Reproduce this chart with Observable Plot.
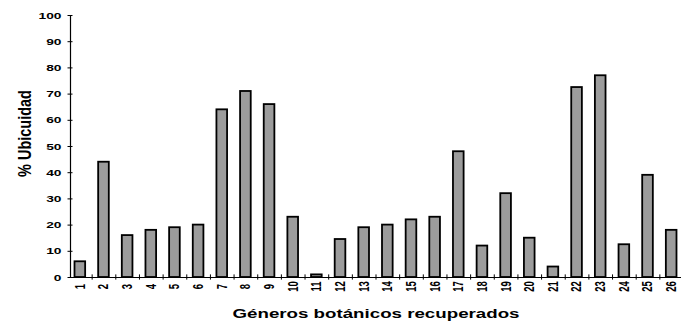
<!DOCTYPE html>
<html>
<head>
<meta charset="utf-8">
<script src="https://cdn.jsdelivr.net/npm/d3@7"></script>
<script src="https://cdn.jsdelivr.net/npm/@observablehq/plot@0.6"></script>
<style>
  html, body { margin: 0; padding: 0; background: #fff; }
</style>
</head>
<body>
<div id="chart"></div>
<script>
// ---- Data ----
const generos = ["1","2","3","4","5","6","7","8","9","10","11","12","13","14","15","16","17","18","19","20","21","22","23","24","25","26"];
const ubicuidad = [6, 44, 16, 18, 19, 20, 64, 71, 66, 23, 1, 14.5, 19, 20, 22, 23, 48, 12, 32, 15, 4, 72.5, 77, 12.5, 39, 18];
const yTicks = [0, 10, 20, 30, 40, 50, 60, 70, 80, 90, 100];
const xTitle = "Géneros botánicos recuperados";
const yTitle = "% Ubicuidad";

const data = generos.map((g, i) => ({genero: g, valor: ubicuidad[i]}));

const W = 681, H = 321;
const xRange = [68, 683];
const step = (xRange[1] - xRange[0]) / generos.length;
const stretch = 1.45; // horizontal stretch of the scanned lettering

const chart = Plot.plot({
  width: W,
  height: H,
  marginLeft: 70,
  marginRight: 0,
  marginTop: 15,
  marginBottom: 44,
  style: {fontFamily: "'Liberation Sans', Arial, sans-serif", background: "#fff", color: "#000"},
  x: {domain: generos, range: xRange, paddingInner: 0.55, paddingOuter: 0.275, round: false, label: null},
  y: {domain: [0, 100], label: null},
  marks: [
    Plot.barY(data, {x: "genero", y: "valor", fill: "#9c9c9c", stroke: "#000", strokeWidth: 1.8}),
    Plot.ruleY([0], {stroke: "#000", strokeWidth: 1.2}),
    Plot.frame({anchor: "left", stroke: "#000", strokeWidth: 1.2}),
    Plot.ruleX(generos.slice(1), {x: d => d, dx: -step / 2, y1: -1, y2: 1, stroke: "#000", strokeWidth: 1}),
    Plot.axisY({ticks: yTicks, tickSize: 5, dx: 2.5, tickPadding: 6.5, fontSize: 9.5, fontWeight: "bold", label: null}),
    Plot.axisX({tickSize: 0, tickRotate: -90, textAnchor: "middle", lineAnchor: "middle", tickPadding: 9, fontSize: 9.5, fontWeight: "bold", label: null}),
    Plot.text([xTitle], {frameAnchor: "bottom", textAnchor: "middle", dy: 40, lineAnchor: "bottom", fontSize: 13, fontWeight: "bold"}),
    Plot.text([yTitle], {frameAnchor: "left", textAnchor: "middle", rotate: -90, dx: -46, dy: -13, fontSize: 14.5, fontWeight: "bold"})
  ]
});

document.getElementById("chart").appendChild(chart);

// emulate the horizontally stretched lettering of the scan
function stretchText(selector, factorFor) {
  d3.select(chart).selectAll(selector).each(function() {
    const t = d3.select(this);
    let tr = t.attr("transform");
    if (!tr) {
      tr = `translate(${+t.attr("x") || 0},${+t.attr("y") || 0})`;
      t.attr("x", null).attr("y", null);
    }
    const rotated = /rotate/.test(tr);
    const f = factorFor(rotated);
    t.attr("transform", tr + (rotated ? ` scale(1,${f})` : ` scale(${f},1)`));
  });
}
stretchText('g[aria-label="y-axis tick label"] text', () => stretch);
stretchText('g[aria-label="x-axis tick label"] text', () => stretch);
stretchText('g[aria-label="text"] text', rotated => rotated ? 1.3 : 1.44);
</script>
</body>
</html>
